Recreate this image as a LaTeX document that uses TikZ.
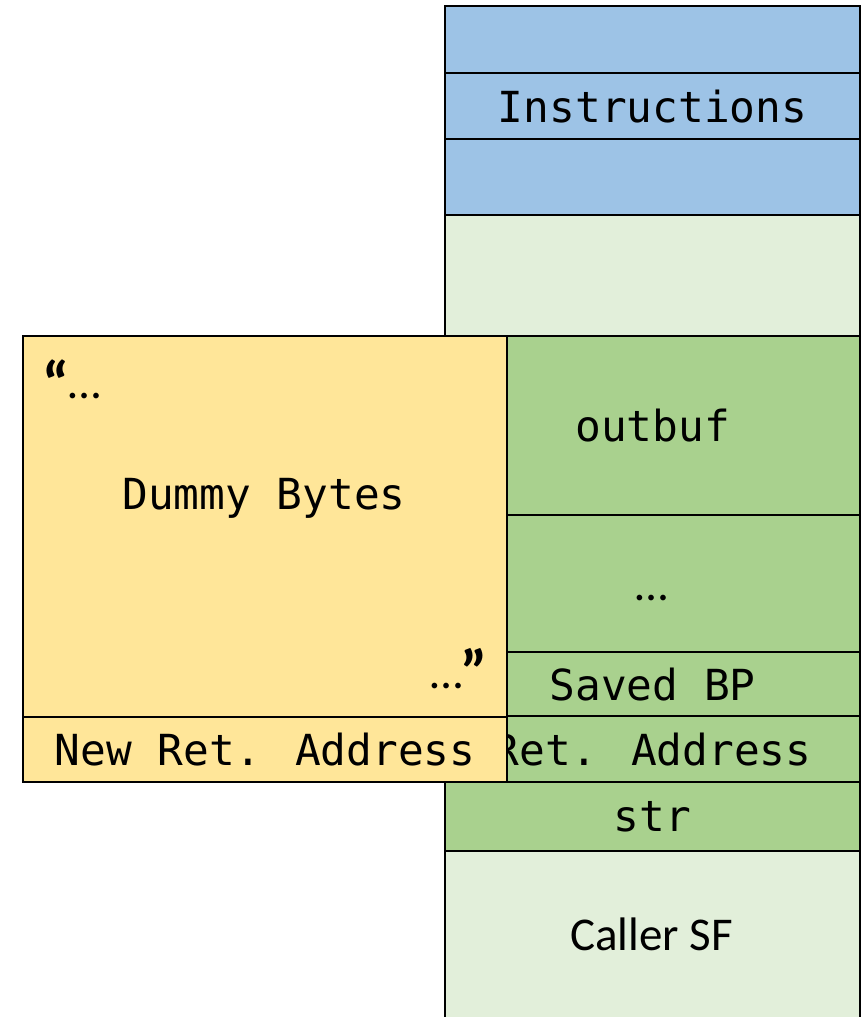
\documentclass[tikz,border=0pt]{standalone}
\usepackage{fontspec}
\newfontfamily\monofont{DejaVu Sans Mono}
\newfontfamily\calfont{Carlito}
\definecolor{instrblue}{HTML}{9DC3E6}
\definecolor{framegreen}{HTML}{A9D18E}
\definecolor{palegreen}{HTML}{E2EFDA}
\definecolor{payloadyellow}{HTML}{FFE699}
\begin{document}
\begin{tikzpicture}[x=1pt,y=-1pt,
  cell/.style={draw=black, line width=2.2pt, rectangle, inner sep=0pt,
    anchor=north west, font=\monofont\fontsize{42.8}{48}\selectfont},
  stackcell/.style={cell, minimum width=415pt},
  label/.style={inner sep=0pt, font=\monofont\fontsize{42.8}{48}\selectfont},
  callabel/.style={inner sep=0pt, font=\calfont\fontsize{47}{52}\selectfont},
  quotemark/.style={inner sep=0pt, font=\calfont\bfseries\fontsize{62}{66}\selectfont}]
\clip (0,0) rectangle (866,1017);
% stack column
\node[stackcell, fill=instrblue, minimum height=67pt] (top) at (444,5) {};
\node[stackcell, fill=instrblue, minimum height=66pt] (instr) at (444,72) {Instructions};
\node[stackcell, fill=instrblue, minimum height=76pt] (nop) at (444,138) {};
\node[stackcell, fill=palegreen, minimum height=121pt] (unused) at (444,214) {};
\node[stackcell, fill=framegreen, minimum height=179pt] (outbuf) at (444,335) {outbuf};
\node[stackcell, fill=framegreen, minimum height=137pt] (locals) at (444,514) {};
\node[callabel, anchor=base] (localsdots) at (652,600) {…};
\node[stackcell, fill=framegreen, minimum height=64pt] (savedbp) at (444,651) {Saved BP};
\node[stackcell, fill=framegreen, minimum height=66pt] (ret) at (444,715) {Ret. Address};
\node[stackcell, fill=framegreen, minimum height=69pt] (str) at (444,781) {str};
\node[stackcell, fill=palegreen, minimum height=185pt] (caller) at (444,850) {};
\node[callabel] (callerlabel) at (651.5,934) {Caller SF};
% overflowing payload
\node[cell, fill=payloadyellow, minimum width=484pt, minimum height=381pt] (dummy) at (22,335) {};
\node[label] (dummylabel) at (264,498) {Dummy Bytes};
\node[quotemark, anchor=north west] (openq) at (42,360) {“};
\node[callabel, anchor=base west] (opendots) at (68,398) {…};
\node[quotemark, anchor=north east] (closeq) at (488,648) {”};
\node[callabel, anchor=base east] (closedots) at (463,688) {…};
\node[cell, fill=payloadyellow, minimum width=484pt, minimum height=65pt] (newret) at (22,716) {New Ret. Address};
\end{tikzpicture}
\end{document}
